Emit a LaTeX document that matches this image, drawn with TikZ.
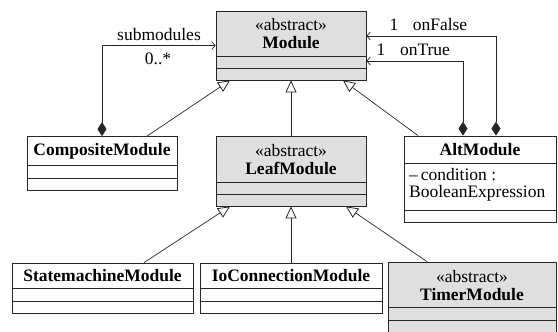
\documentclass[tikz,border=0pt]{standalone}
\usepackage{fontspec}
\setmainfont{Liberation Serif}
\usetikzlibrary{arrows.meta}
\begin{document}
\begin{tikzpicture}[x=1pt,y=-1pt,
  every node/.style={font=\fontsize{17.5}{18}\selectfont},
  classbox/.style={draw=black!85, line width=0.8pt, inner sep=0pt, fill=white},
  abstractbox/.style={classbox, fill=gray!25},
  title/.style={align=center, inner sep=0pt},
  cmpline/.style={draw=black!85, line width=0.8pt},
  inherit/.style={draw=black!85, line width=0.7pt, -{Triangle[open, length=12pt, width=11pt, line width=0.8pt]}},
  compose/.style={draw=black!85, line width=0.7pt, {Diamond[length=14pt, width=9pt]}-{Straight Barb[length=3.5pt, width=8pt, line width=0.7pt]}},
  lbl/.style={inner sep=0pt}
]
\useasboundingbox (0,0) rectangle (558,332);

% Module
\node[abstractbox, minimum width=150pt, minimum height=69pt] (mod) at (291,45.5) {};
\node[title] (modt) at (291,34) {«abstract»\\\textbf{Module}};
\draw[cmpline] (216,56) -- (366,56);
\draw[cmpline] (216,68) -- (366,68);

% CompositeModule
\node[classbox, minimum width=150pt, minimum height=54pt] (comp) at (102,163.5) {};
\node[title] (compt) at (102,151) {\textbf{CompositeModule}};
\draw[cmpline] (27,165) -- (177,165);
\draw[cmpline] (27,178) -- (177,178);

% LeafModule
\node[abstractbox, minimum width=150pt, minimum height=70pt] (leaf) at (291,171) {};
\node[title] (leaft) at (291,160) {«abstract»\\\textbf{LeafModule}};
\draw[cmpline] (216,182) -- (366,182);
\draw[cmpline] (216,194) -- (366,194);

% AltModule
\node[classbox, minimum width=152pt, minimum height=86pt] (alt) at (480,179) {};
\node[title] (altt) at (480,150) {\textbf{AltModule}};
\draw[cmpline] (404,163) -- (556,163);
\node[lbl, anchor=west] (alta) at (409,175) {–\,condition :};
\node[lbl, anchor=west] (altb) at (409,193) {BooleanExpression};
\draw[cmpline] (404,210) -- (556,210);

% StatemachineModule
\node[classbox, minimum width=181pt, minimum height=50pt] (sm) at (102.5,288) {};
\node[title] (smt) at (102.5,275.5) {\textbf{StatemachineModule}};
\draw[cmpline] (12,288) -- (193,288);
\draw[cmpline] (12,301) -- (193,301);

% IoConnectionModule
\node[classbox, minimum width=182pt, minimum height=50pt] (io) at (291,288) {};
\node[title] (iot) at (291,275.5) {\textbf{IoConnectionModule}};
\draw[cmpline] (200,288) -- (382,288);
\draw[cmpline] (200,301) -- (382,301);

% TimerModule
\node[abstractbox, minimum width=168pt, minimum height=74pt] (timer) at (472,299) {};
\node[title] (timert) at (472,286) {«abstract»\\\textbf{TimerModule}};
\draw[cmpline] (388,307) -- (556,307);
\draw[cmpline] (388,320) -- (556,320);

% inheritance
\draw[inherit] ([xshift=45pt]comp.north) -- ([xshift=-61pt]mod.south);
\draw[inherit] (leaf.north) -- (mod.south);
\draw[inherit] ([xshift=-62pt]alt.north) -- ([xshift=52pt]mod.south);
\draw[inherit] ([xshift=41.5pt]sm.north) -- ([xshift=-61pt]leaf.south);
\draw[inherit] (io.north) -- (leaf.south);
\draw[inherit] ([xshift=-45pt]timer.north) -- ([xshift=55pt]leaf.south);

% compositions
\draw[compose] (comp.north) |- (mod.west);
\draw[compose] ([xshift=16pt]alt.north) |- ([yshift=9.5pt]mod.east);
\draw[compose] ([xshift=-17pt]alt.north) |- ([yshift=-15.5pt]mod.east);

% labels
\node[lbl] (lsub) at (159,35) {submodules};
\node[lbl] (lmult) at (158,59) {0..*};
\node[lbl] (lf1) at (394,25) {1};
\node[lbl] (lf) at (440,25) {onFalse};
\node[lbl] (lt1) at (381,50) {1};
\node[lbl] (lt) at (425,50) {onTrue};
\end{tikzpicture}
\end{document}
